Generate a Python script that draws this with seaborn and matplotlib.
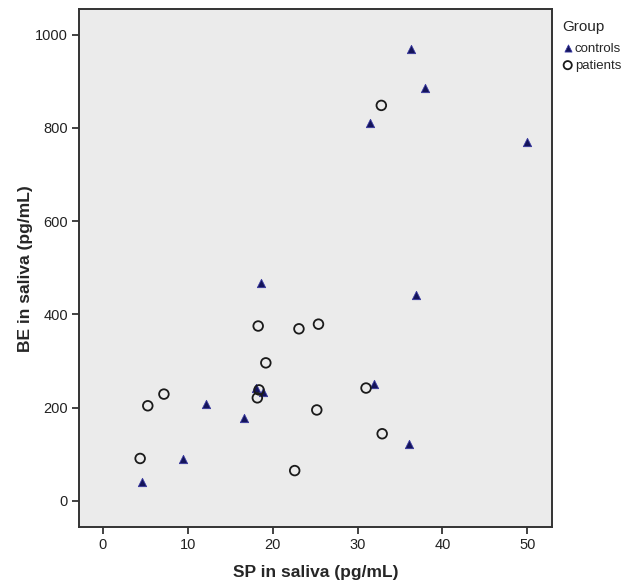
import matplotlib
matplotlib.use("Agg")
import matplotlib.pyplot as plt
import seaborn as sns
import pandas as pd

controls_sp = [36.35, 37.9, 31.45, 50.0, 36.9, 18.6, 12.2, 9.4, 4.66, 16.6, 18.0, 18.9, 31.9, 36.0]
controls_be = [969, 885, 811, 769, 441, 468, 207, 90, 41, 178, 242, 233, 250, 121]
patients_sp = [32.8, 18.3, 23.1, 25.4, 19.2, 7.2, 5.3, 4.4, 18.4, 18.2, 22.6, 25.2, 31.0, 32.9]
patients_be = [848, 375, 369, 379, 296, 229, 204, 91, 238, 221, 65, 195, 242, 144]
groups = ["controls", "patients"]
x_ticks = [0, 10, 20, 30, 40, 50]
y_ticks = [0, 200, 400, 600, 800, 1000]

df = pd.DataFrame({
    "SP": controls_sp + patients_sp,
    "BE": controls_be + patients_be,
    "Group": [groups[0]] * len(controls_sp) + [groups[1]] * len(patients_sp),
})

sns.set_style("ticks")
plt.rcParams['font.family'] = ['Liberation Sans', 'DejaVu Sans']

fig = plt.figure(figsize=(6.22, 5.83), dpi=100)
ax = fig.add_axes([0.127, 0.096, 0.7605, 0.888])
ax.set_facecolor("#EBEBEB")

c = df[df.Group == "controls"]
p = df[df.Group == "patients"]
sns.scatterplot(data=c, x="SP", y="BE", marker="^", s=36, color="#14145A",
                edgecolor="#3838A0", linewidth=0.6, ax=ax, label="controls", zorder=3)
sns.scatterplot(data=p, x="SP", y="BE", marker="o", s=48, facecolor="none",
                edgecolor="#1A1A1A", linewidth=1.3, ax=ax, label="patients", zorder=3)

ax.set_xlim(-2.8, 52.9)
ax.set_ylim(-56, 1054)
ax.set_xticks(x_ticks)
ax.set_yticks(y_ticks)
ax.tick_params(axis="both", labelsize=10.5, length=5, width=1.2, colors="#222222", pad=3)
for s in ax.spines.values():
    s.set_linewidth(1.4)
    s.set_color("#333333")

ax.set_xlabel("SP in saliva (pg/mL)", fontsize=12.5, fontweight="bold")
ax.set_ylabel("BE in saliva (pg/mL)", fontsize=12.5, fontweight="bold")
ax.xaxis.set_label_coords(0.5, -0.074)
ax.yaxis.set_label_coords(-0.098, 0.5)

leg = ax.legend(title="Group", loc="upper left", bbox_to_anchor=(1.022, 0.979),
                frameon=False, fontsize=9.5, title_fontsize=11, handletextpad=0.15,
                handlelength=0.8, borderpad=0.0, borderaxespad=0.0, labelspacing=0.35,
                markerscale=0.85)
leg._legend_box.align = "left"
leg._legend_box.sep = 6

fig.savefig("out.png", dpi=100)
